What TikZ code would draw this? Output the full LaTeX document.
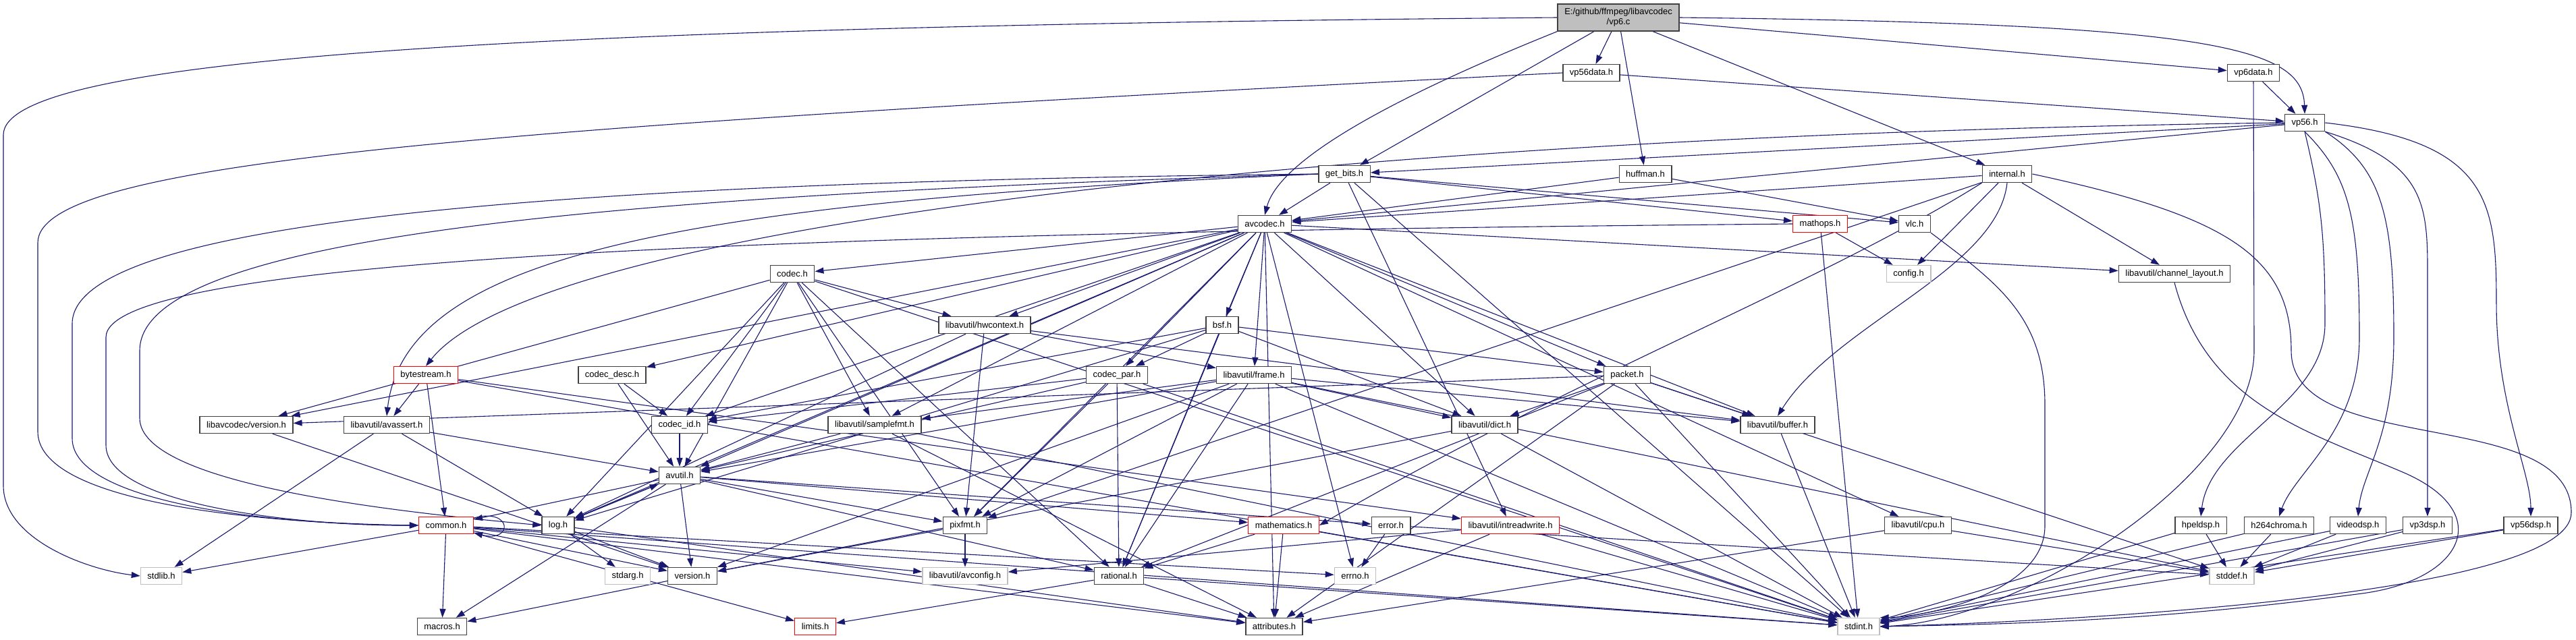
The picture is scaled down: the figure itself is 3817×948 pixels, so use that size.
\documentclass[tikz,border=0pt]{standalone}
\usepackage{fontspec}
\setmainfont{Liberation Sans}
\usepackage{xcolor}
\usepackage{tikz}
\usetikzlibrary{arrows.meta,backgrounds}

\definecolor{edgeblue}{RGB}{25,25,112}

\begin{document}
\begin{tikzpicture}[
  x=1pt, y=-1pt,
  font=\fontsize{13}{15}\selectfont,
  hdr/.style={rectangle, draw=black!75, line width=1.4pt, fill=white, minimum height=25pt, inner xsep=10pt, inner ysep=0pt},
  trunc/.style={hdr, draw=red},
  sys/.style={hdr, draw=black!25},
  root/.style={hdr, fill=black!25, align=center, minimum width=180pt, minimum height=40pt},
  dep/.style={draw=edgeblue, line width=1.1pt, -{Triangle[length=13pt,width=9pt]}}
]
  \useasboundingbox (0,0) rectangle (3817,948);

  % top rows
  \node[root] (vp6) at (2398,26) {E:/github/ffmpeg/libavcodec\\/vp6.c};
  \node[hdr] (vp56data) at (2358,108) {vp56data.h};
  \node[hdr] (vp6data) at (3339,108) {vp6data.h};
  \node[hdr] (vp56) at (3415,182) {vp56.h};
  \node[hdr] (getbits) at (1992,258) {get\_bits.h};
  \node[hdr] (huffman) at (2438,258) {huffman.h};
  \node[hdr] (internal) at (2974,258) {internal.h};
  \node[hdr] (avcodec) at (1874,332) {avcodec.h};
  \node[trunc] (mathops) at (2697,332) {mathops.h};
  \node[hdr] (vlc) at (2837,332) {vlc.h};
  \node[hdr] (codec) at (1174,406) {codec.h};
  \node[sys] (config) at (2828,406) {config.h};
  \node[hdr] (chlayout) at (3222,406) {libavutil/channel\_layout.h};
  \node[hdr] (hwctx) at (1459,482) {libavutil/hwcontext.h};
  \node[hdr] (bsf) at (1811,482) {bsf.h};

  % middle rows
  \node[trunc] (bytestream) at (631,556) {bytestream.h};
  \node[hdr] (codecdesc) at (907,556) {codec\_desc.h};
  \node[hdr] (codecpar) at (1655,556) {codec\_par.h};
  \node[hdr] (frame) at (1858,556) {libavutil/frame.h};
  \node[hdr] (packet) at (2411,556) {packet.h};
  \node[hdr] (avcver) at (365,630) {libavcodec/version.h};
  \node[hdr] (avassert) at (573,630) {libavutil/avassert.h};
  \node[hdr] (codecid) at (1007,630) {codec\_id.h};
  \node[hdr] (samplefmt) at (1296,630) {libavutil/samplefmt.h};
  \node[hdr] (dict) at (2200,630) {libavutil/dict.h};
  \node[hdr] (buffer) at (2634,630) {libavutil/buffer.h};
  \node[hdr] (avutil) at (1007,705) {avutil.h};

  % lower rows
  \node[trunc] (common) at (661,779) {common.h};
  \node[hdr] (log) at (827,779) {log.h};
  \node[hdr] (pixfmt) at (1430,779) {pixfmt.h};
  \node[trunc] (mathematics) at (1902,779) {mathematics.h};
  \node[hdr] (error) at (2061,779) {error.h};
  \node[trunc] (intrw) at (2238,779) {libavutil/intreadwrite.h};
  \node[hdr] (cpu) at (2842,779) {libavutil/cpu.h};
  \node[hdr] (hpeldsp) at (3261,779) {hpeldsp.h};
  \node[hdr] (h264chroma) at (3377,779) {h264chroma.h};
  \node[hdr] (videodsp) at (3494,779) {videodsp.h};
  \node[hdr] (vp3dsp) at (3597,779) {vp3dsp.h};
  \node[hdr] (vp56dsp) at (3750,779) {vp56dsp.h};
  \node[sys] (stdlib) at (239,854) {stdlib.h};
  \node[sys] (stdarg) at (930,854) {stdarg.h};
  \node[hdr] (version) at (1026,854) {version.h};
  \node[sys] (avconfig) at (1430,854) {libavutil/avconfig.h};
  \node[hdr] (rational) at (1658,854) {rational.h};
  \node[sys] (errno) at (2008,854) {errno.h};
  \node[sys] (stddef) at (3307,854) {stddef.h};
  \node[hdr] (macros) at (655,929) {macros.h};
  \node[trunc] (limits) at (1208,929) {limits.h};
  \node[hdr] (attributes) at (1888,929) {attributes.h};
  \node[sys] (stdint) at (2754,929) {stdint.h};

  \begin{scope}[on background layer]
  % vp6.c
  \draw[dep] (vp6.west) .. controls (700,40) and (5,90) .. (5,200) -- (5,720) .. controls (5,800) and (130,845) .. (stdlib.west);
  \draw[dep] (vp6.south west) .. controls (2150,110) and (1900,220) .. (avcodec.north);
  \draw[dep] (vp6) -- (getbits);
  \draw[dep] (vp6) -- (huffman);
  \draw[dep] (vp6) -- (internal);
  \draw[dep] (vp6.east) .. controls (3280,35) and (3412,70) .. (vp56.north);
  \draw[dep] (vp6) -- (vp56data);
  \draw[dep] (vp6) -- (vp6data);
  % vp56data.h, vp6data.h
  \draw[dep] (vp56data.west) .. controls (700,190) and (56,240) .. (56,360) -- (56,640) .. controls (56,740) and (350,775) .. (common.west);
  \draw[dep] (vp56data) -- (vp56);
  \draw[dep] (vp6data) -- (vp56);
  \draw[dep] (vp6data.south) -- (3340,520) .. controls (3340,700) and (3000,920) .. (stdint.east);
  % vp56.h
  \draw[dep] (vp56) -- (avcodec);
  \draw[dep] (vp56) -- (getbits);
  \draw[dep] (vp56.west) .. controls (2000,200) and (800,330) .. (bytestream.north);
  \draw[dep] (vp56.south) .. controls (3440,300) and (3445,350) .. (3445,480) .. controls (3445,600) and (3275,650) .. (hpeldsp.north);
  \draw[dep] (vp56.south) .. controls (3480,260) and (3496,320) .. (3496,500) .. controls (3496,640) and (3400,700) .. (h264chroma.north);
  \draw[dep] (vp56.south east) .. controls (3530,250) and (3547,320) .. (3547,500) .. controls (3547,650) and (3500,700) .. (videodsp.north);
  \draw[dep] (vp56.south east) .. controls (3590,240) and (3597,300) .. (3597,400) -- (vp3dsp.north);
  \draw[dep] (vp56.east) .. controls (3690,210) and (3699,300) .. (3699,450) .. controls (3699,600) and (3750,700) .. (vp56dsp.north);
  % get_bits.h
  \draw[dep] (getbits) -- (stdint);
  \draw[dep] (getbits.west) .. controls (800,270) and (107,330) .. (107,480) -- (107,650) .. controls (107,745) and (400,778) .. (common.west);
  \draw[dep] (getbits) -- (intrw);
  \draw[dep] (getbits.west) .. controls (900,290) and (207,350) .. (207,520) -- (207,620) .. controls (207,720) and (600,760) .. (log.west);
  \draw[dep] (getbits.west) .. controls (1000,300) and (600,380) .. (avassert.north);
  \draw[dep] (getbits) -- (avcodec);
  \draw[dep] (getbits) -- (mathops);
  \draw[dep] (getbits) -- (vlc);
  % huffman.h, internal.h, mathops.h, vlc.h
  \draw[dep] (huffman) -- (avcodec);
  \draw[dep] (huffman) -- (vlc);
  \draw[dep] (internal.east) .. controls (3300,320) and (3395,380) .. (3395,520) .. controls (3395,680) and (3810,600) .. (3810,760) .. controls (3810,880) and (3100,920) .. (stdint.east);
  \draw[dep] (internal.south) .. controls (2960,400) and (2720,480) .. (buffer.north);
  \draw[dep] (internal) -- (chlayout);
  \draw[dep] (internal.south west) .. controls (2700,420) and (2330,560) .. (mathematics.east);
  \draw[dep] (internal) -- (pixfmt);
  \draw[dep] (internal) -- (avcodec);
  \draw[dep] (internal) -- (config);
  \draw[dep] (mathops) -- (stdint);
  \draw[dep] (mathops.west) .. controls (1200,345) and (157,380) .. (157,500) -- (157,660) .. controls (157,750) and (450,780) .. (common.west);
  \draw[dep] (mathops) -- (config);
  \draw[dep] (vlc.south east) .. controls (2960,420) and (3030,470) .. (3030,600) -- (3030,780) .. controls (3030,880) and (2850,915) .. (stdint.north east);
  \draw[dep] (chlayout.south) .. controls (3270,600) and (3420,640) .. (3560,700) .. controls (3700,760) and (3650,860) .. (3500,880) .. controls (3200,920) and (3000,925) .. (stdint.east);
  % avcodec.h
  \draw[dep] (avcodec) -- (errno);
  \draw[dep] (avcodec) -- (samplefmt);
  \draw[dep] (avcodec) -- (attributes);
  \draw[dep] (avcodec) -- (avutil);
  \draw[dep] (avcodec) -- (buffer);
  \draw[dep] (avcodec) -- (cpu);
  \draw[dep] (avcodec) -- (chlayout);
  \draw[dep] (avcodec) -- (dict);
  \draw[dep] (avcodec) -- (frame);
  \draw[dep] (avcodec) -- (hwctx);
  \draw[dep] (avcodec) -- (log);
  \draw[dep] (avcodec) -- (pixfmt);
  \draw[dep] (avcodec) -- (rational);
  \draw[dep] (avcodec) -- (bsf);
  \draw[dep] (avcodec) -- (codec);
  \draw[dep] (avcodec) -- (codecdesc);
  \draw[dep] (avcodec) -- (codecpar);
  \draw[dep] (avcodec) -- (codecid);
  \draw[dep] (avcodec) -- (packet);
  \draw[dep] (avcodec) -- (avcver);
  % codec.h
  \draw[dep] (codec) -- (stdint);
  \draw[dep] (codec) -- (avutil);
  \draw[dep] (codec) -- (hwctx);
  \draw[dep] (codec) -- (log);
  \draw[dep] (codec) -- (pixfmt);
  \draw[dep] (codec) -- (rational);
  \draw[dep] (codec) -- (samplefmt);
  \draw[dep] (codec) -- (codecid);
  \draw[dep] (codec) -- (avcver);
  % bsf.h, hwcontext.h
  \draw[dep] (bsf) -- (dict);
  \draw[dep] (bsf) -- (log);
  \draw[dep] (bsf) -- (rational);
  \draw[dep] (bsf) -- (codecid);
  \draw[dep] (bsf) -- (codecpar);
  \draw[dep] (bsf) -- (packet);
  \draw[dep] (hwctx) -- (buffer);
  \draw[dep] (hwctx) -- (frame);
  \draw[dep] (hwctx) -- (log);
  \draw[dep] (hwctx) -- (pixfmt);
  % packet.h
  \draw[dep] (packet) -- (stddef);
  \draw[dep] (packet) -- (stdint);
  \draw[dep] (packet) -- (attributes);
  \draw[dep] (packet) -- (buffer);
  \draw[dep] (packet) -- (dict);
  \draw[dep] (packet) -- (rational);
  \draw[dep] (packet) -- (avcver);
  % bytestream.h, codec_desc.h, codec_par.h
  \draw[dep] (bytestream) -- (stdint);
  \draw[dep] (bytestream) -- (avassert);
  \draw[dep] (bytestream) -- (common);
  \draw[dep] (bytestream) -- (intrw);
  \draw[dep] (codecdesc) -- (avutil);
  \draw[dep] (codecdesc) -- (codecid);
  \draw[dep] (codecpar) -- (stdint);
  \draw[dep] (codecpar) -- (avutil);
  \draw[dep] (codecpar) -- (rational);
  \draw[dep] (codecpar) -- (pixfmt);
  \draw[dep] (codecpar) -- (codecid);
  % libavutil/frame.h
  \draw[dep] (frame) -- (stddef);
  \draw[dep] (frame) -- (stdint);
  \draw[dep] (frame) -- (avutil);
  \draw[dep] (frame) -- (buffer);
  \draw[dep] (frame) -- (dict);
  \draw[dep] (frame) -- (rational);
  \draw[dep] (frame) -- (samplefmt);
  \draw[dep] (frame) -- (pixfmt);
  \draw[dep] (frame) -- (version);
  % version, avassert, codec_id, samplefmt, dict, buffer
  \draw[dep] (avcver) -- (version);
  \draw[dep] (avassert) -- (stdlib);
  \draw[dep] (avassert) -- (avutil);
  \draw[dep] (avassert) -- (log);
  \draw[dep] (codecid) -- (avutil);
  \draw[dep] (samplefmt) -- (stdint);
  \draw[dep] (samplefmt) -- (avutil);
  \draw[dep] (samplefmt) -- (attributes);
  \draw[dep] (dict) -- (stdint);
  \draw[dep] (dict) -- (version);
  \draw[dep] (buffer) -- (stdint);
  % avutil.h
  \draw[dep] (avutil) -- (common);
  \draw[dep] (avutil) -- (error);
  \draw[dep] (avutil) -- (rational);
  \draw[dep] (avutil) -- (version);
  \draw[dep] (avutil) -- (macros);
  \draw[dep] (avutil) -- (mathematics);
  \draw[dep] (avutil) -- (log);
  \draw[dep] (avutil) -- (pixfmt);
  % common.h, log.h
  \draw[dep] (common) to[out=15, in=-15, looseness=7] (common);
  \draw[dep] (common) -- (stdlib);
  \draw[dep] (common) -- (macros);
  \draw[dep] (common) -- (limits);
  \draw[dep] (common) -- (attributes);
  \draw[dep] (common) -- (stdint);
  \draw[dep] (common) -- (errno);
  \draw[dep] (common) -- (version);
  \draw[dep] (common) -- (avconfig);
  \draw[dep] (log) -- (stdarg);
  \draw[dep] (log) -- (avutil);
  \draw[dep] (log) -- (attributes);
  \draw[dep] (log) -- (version);
  % error, mathematics, pixfmt, rational, intreadwrite, cpu, version
  \draw[dep] (error) -- (errno);
  \draw[dep] (error) -- (stddef);
  \draw[dep] (mathematics) -- (stdint);
  \draw[dep] (mathematics) -- (attributes);
  \draw[dep] (mathematics) -- (rational);
  \draw[dep] (pixfmt) -- (avconfig);
  \draw[dep] (pixfmt) -- (version);
  \draw[dep] (rational) -- (stdint);
  \draw[dep] (rational) -- (limits);
  \draw[dep] (rational) -- (attributes);
  \draw[dep] (intrw) -- (stdint);
  \draw[dep] (intrw) -- (avconfig);
  \draw[dep] (intrw) -- (attributes);
  \draw[dep] (cpu) -- (stddef);
  \draw[dep] (cpu) -- (attributes);
  \draw[dep] (version) -- (macros);
  % dsp headers
  \draw[dep] (hpeldsp) -- (stdint);
  \draw[dep] (hpeldsp) -- (stddef);
  \draw[dep] (h264chroma) -- (stdint);
  \draw[dep] (h264chroma) -- (stddef);
  \draw[dep] (videodsp) -- (stdint);
  \draw[dep] (videodsp) -- (stddef);
  \draw[dep] (vp3dsp) -- (stdint);
  \draw[dep] (vp3dsp) -- (stddef);
  \draw[dep] (vp56dsp) -- (stdint);
  \draw[dep] (vp56dsp) -- (stddef);
  \end{scope}
\end{tikzpicture}
\end{document}
